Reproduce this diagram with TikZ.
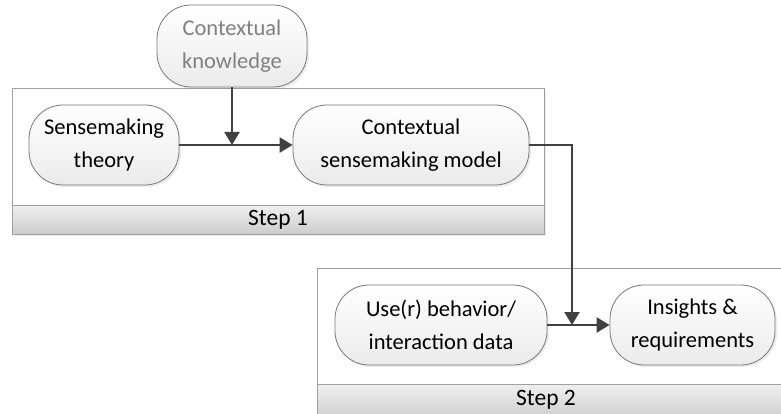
\documentclass[tikz,border=0pt]{standalone}
\usepackage{fontspec}
\setmainfont{Carlito}
\usetikzlibrary{arrows.meta,shadows}
\definecolor{boxline}{RGB}{160,160,160}
\definecolor{nodeline}{RGB}{120,120,120}
\definecolor{arrowc}{RGB}{64,64,64}
\tikzset{
  container/.style={draw=boxline, fill=white, line width=0.8pt, drop shadow={shadow xshift=2pt, shadow yshift=-2pt, opacity=0.15}},
  footer/.style={draw=boxline, line width=0.8pt, top color=black!6, bottom color=black!20},
  roundbox/.style={draw=nodeline, line width=0.8pt, rounded corners=34pt, top color=white, bottom color=black!8,
     align=center, font=\fontsize{22.5}{33}\selectfont, inner sep=0pt,
     drop shadow={shadow xshift=2pt, shadow yshift=-2pt, opacity=0.15}},
  conn/.style={draw=arrowc, line width=2.2pt, -{Triangle[length=13pt,width=15pt]}},
  steplabel/.style={font=\fontsize{23.5}{28}\selectfont}
}
\begin{document}
\begin{tikzpicture}[x=1pt,y=-1pt]
\useasboundingbox (0,0) rectangle (781,414);
% Step 1 container
\path[container] (12,88) rectangle (544,234);
\path[footer] (12,205) rectangle (544,234);
\node[steplabel] (s1) at (278,219.5) {Step 1};
% Step 2 container
\path[container] (317,268) rectangle (790,420);
\path[footer] (317,384) rectangle (790,420);
\node[steplabel] (s2) at (546,399.5) {Step 2};
% nodes
\node[roundbox, minimum width=150pt, minimum height=82pt, text=black!50] (ck) at (232,46) {Contextual\\knowledge};
\node[roundbox, minimum width=150pt, minimum height=80pt] (st) at (104,145) {Sensemaking\\theory};
\node[roundbox, minimum width=236pt, minimum height=80pt] (cm) at (411,145) {Contextual\\sensemaking model};
\node[roundbox, minimum width=212pt, minimum height=80pt] (ud) at (441,325) {Use(r) behavior/\\interaction data};
\node[roundbox, minimum width=165pt, minimum height=80pt] (ir) at (692.5,325) {Insights \&\\requirements};
% connectors
\coordinate (j1) at (ck.south |- st.east);
\coordinate (j2) at (572,325);
\draw[conn] (st.east) -- (cm.west);
\draw[conn] (ck.south) -- (j1);
\draw[conn] (ud.east) -- (ir.west);
\draw[conn] (cm.east) -- (j2 |- cm.east) -- (j2);
\end{tikzpicture}
\end{document}
